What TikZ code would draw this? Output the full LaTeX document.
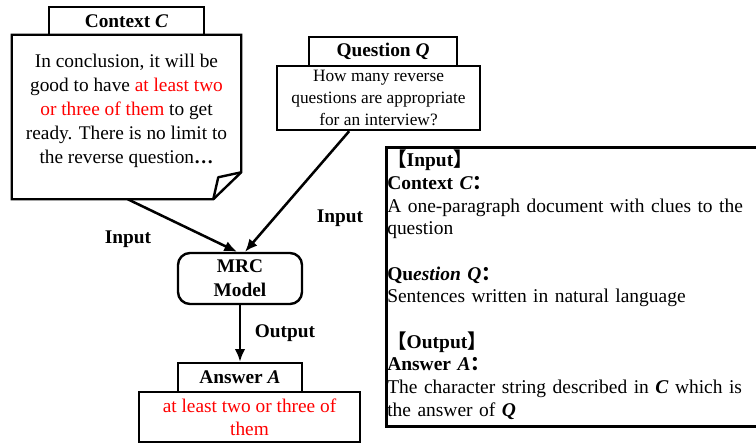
\documentclass[tikz,border=0pt]{standalone}
\usepackage{fontspec}
\setmainfont{Liberation Serif}
\newfontfamily\cjk{Noto Sans CJK SC}
\usetikzlibrary{positioning}
\usetikzlibrary{arrows.meta}
\usepackage{xcolor}
\definecolor{ansred}{RGB}{255,0,0}

\tikzset{
    box/.style={draw, line width=1.8pt, inner sep=0pt, align=center},
    lbl/.style={font=\fontsize{14.5}{17}\selectfont\bfseries},
    arrow/.style={line width=1.9pt, -{Latex[length=9.5pt,width=8pt]}}
}

\begin{document}
\begin{tikzpicture}[x=0.75pt,y=-0.75pt]
    \useasboundingbox (0,0) rectangle (756,444);
    \clip (0,0) rectangle (756,444);

    % Context
    \node[box, minimum width=116.25pt, minimum height=21pt, font=\fontsize{14.5}{17}\selectfont\bfseries] (ctxtitle) at (126.5,21) {Context \textit{C}};
    \node[minimum width=171.75pt, minimum height=123pt, inner sep=0pt] (ctx) at (126.5,117) {};
    \draw[line width=1.8pt] (ctx.north west) -- (ctx.north east) -- ([yshift=20.25pt]ctx.south east)
        -- ([xshift=-21pt]ctx.south east) -- (ctx.south west) -- cycle;
    \draw[line width=1.8pt, line join=round] ([yshift=20.25pt]ctx.south east) -- ([xshift=-17.25pt,yshift=16.5pt]ctx.south east)
        -- ([xshift=-21pt]ctx.south east);
    \node[align=center, font=\fontsize{14.5}{18}\selectfont] (ctxtext) at (126.5,111)
        {In conclusion, it will be\\good to have \textcolor{ansred}{at least two}\\\textcolor{ansred}{or three of them} to get\\ready. There is no limit to\\the reverse question\textbf{\dots}};

    % Question
    \node[box, minimum width=111pt, minimum height=21.75pt, font=\fontsize{14.5}{17}\selectfont\bfseries] (qtitle) at (383,51.5) {Question \textit{Q}};
    \node[box, minimum width=152.25pt, minimum height=48pt, font=\fontsize{13}{16.5}\selectfont] (qbody) at (378.5,98)
        {How many reverse\\questions are appropriate\\for an interview?};

    % Model
    \node[box, rounded corners=9pt, minimum width=93pt, minimum height=38.25pt, font=\fontsize{14.5}{18}\selectfont\bfseries] (mrc) at (240,278.5) {MRC\\Model};

    % Answer
    \node[box, minimum width=93pt, minimum height=21.75pt, font=\fontsize{14.5}{17}\selectfont\bfseries] (anstitle) at (240,377.5) {Answer \textit{A}};
    \node[box, minimum width=165.75pt, minimum height=37.5pt, font=\fontsize{14.5}{17.25}\selectfont, text=ansred] (ansbody) at (249.5,417)
        {at least two or three of\\them};

    % Connectors
    \draw[arrow] ([xshift=1pt]ctx.south) -- ([xshift=-2.25pt]mrc.north);
    \draw[arrow] ([xshift=-22pt]qbody.south) -- ([xshift=3.75pt]mrc.north);
    \draw[arrow] (mrc.south) -- (anstitle.north);
    \node[lbl] (inleft) at (128,239) {Input};
    \node[lbl] (inright) at (340,218) {Input};
    \node[lbl] (outlbl) at (285,333) {Output};

    % Description
    \node[draw, line width=2.2pt, anchor=north west, minimum width=285pt, minimum height=209.25pt, inner sep=0pt] (info) at (385,146) {};
    \node[anchor=north west, align=left, text width=300pt, inner sep=0pt, font=\fontsize{14.6}{17}\selectfont] (infotext) at (387,150)
        {\textbf{{\cjk 【}Input{\cjk 】}}\\
         \textbf{Context \textit{C}{\cjk ：}}\\
         A one-paragraph document with clues to the\\
         question\\[17pt]
         \textbf{Qu\textit{estion Q}{\cjk ：}}\\
         Sentences written in natural language\\[17pt]
         \textbf{{\cjk 【}Output{\cjk 】}}\\
         \textbf{Answer \textit{A}{\cjk ：}}\\
         The character string described in \textbf{\textit{C}} which is\\
         the answer of \textbf{\textit{Q}}};
\end{tikzpicture}
\end{document}
